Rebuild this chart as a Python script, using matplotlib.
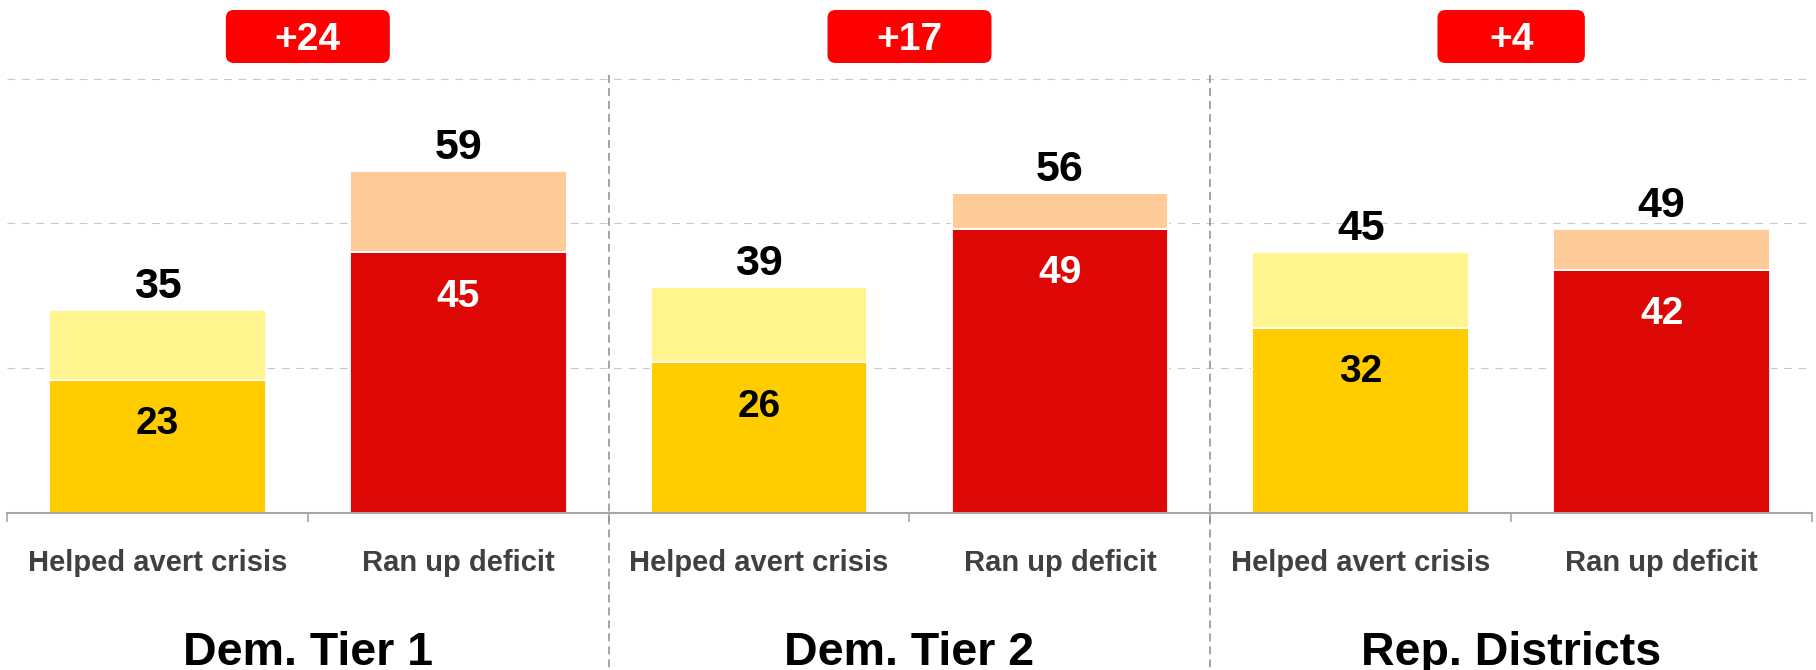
import matplotlib
matplotlib.use("Agg")
import matplotlib.pyplot as plt
from matplotlib.patches import FancyBboxPatch
import matplotlib.transforms as mtransforms

# ---------------- data ----------------
groups = ["Dem. Tier 1", "Dem. Tier 2", "Rep. Districts"]
bar_labels = ["Helped avert crisis", "Ran up deficit"]
helped_strong = [23, 26, 32]
helped_total = [35, 39, 45]
deficit_strong = [45, 49, 42]
deficit_total = [59, 55.2, 49]          # bar heights as drawn
deficit_total_labels = ["59", "56", "49"]  # labels as printed
margins = ["+24", "+17", "+4"]
y_ticks = [25, 50, 75]

# ---------------- style ----------------
plt.rcParams['font.family'] = ['Liberation Sans', 'DejaVu Sans']
plt.rcParams['font.weight'] = 'bold'

C_GOLD = '#FFCC00'
C_LYEL = '#FFF48D'
C_RED = '#DD0806'
C_PEACH = '#FFCC99'
C_BOX = '#FF0000'

FW, FH, DPI = 1816, 670, 100
fig = plt.figure(figsize=(FW / DPI, FH / DPI), dpi=DPI)

unit_px = 5.79         # pixels per y unit
ymax = 76
ax_left_px, ax_right_px = 7, 1812
ax_bottom_px = 513     # from top
ax_h_px = ymax * unit_px
ax = fig.add_axes([ax_left_px / FW, (FH - ax_bottom_px) / FH,
                   (ax_right_px - ax_left_px) / FW, ax_h_px / FH])

n = len(groups)
x_helped = [2 * i for i in range(n)]
x_deficit = [2 * i + 1 for i in range(n)]
bw = 0.72

helped_soft = [t - s for t, s in zip(helped_total, helped_strong)]
deficit_soft = [t - s for t, s in zip(deficit_total, deficit_strong)]

kw = dict(width=bw, edgecolor='white', linewidth=1.3, zorder=2)
ax.bar(x_helped, helped_strong, color=C_GOLD, **kw)
ax.bar(x_helped, helped_soft, bottom=helped_strong, color=C_LYEL, **kw)
ax.bar(x_deficit, deficit_strong, color=C_RED, **kw)
ax.bar(x_deficit, deficit_soft, bottom=deficit_strong, color=C_PEACH, **kw)

ax.set_xlim(-0.5, 2 * n - 0.5)
ax.set_ylim(0, ymax)

# value labels
helped_total_labels = [str(v) for v in helped_total]
for xs, strong, total, tlabels, incol in [
        (x_helped, helped_strong, helped_total, helped_total_labels, 'black'),
        (x_deficit, deficit_strong, deficit_total, deficit_total_labels, 'white')]:
    for x, s, t, tl in zip(xs, strong, total, tlabels):
        ax.text(x, s - 9.35, str(s), ha='center', va='baseline', fontsize=28,
                color=incol, fontweight='bold', zorder=3)
        ax.text(x, t + 2.1, tl, ha='center', va='baseline', fontsize=31,
                color='black', fontweight='bold', zorder=3)

# grid
ax.set_yticks(y_ticks)
ax.yaxis.grid(True, color='#C8C8C8', linewidth=0.8, linestyle=(0, (7, 6)), zorder=0)
ax.set_axisbelow(True)
ax.tick_params(axis='y', length=0, labelleft=False)

for s in ['left', 'right', 'top']:
    ax.spines[s].set_visible(False)
ax.spines['bottom'].set_color('#A6A6A6')
ax.spines['bottom'].set_linewidth(1.5)

# x ticks
xpos = []
xlab = []
for i in range(n):
    xpos += [x_helped[i], x_deficit[i]]
    xlab += bar_labels
ax.set_xticks(xpos)
ax.set_xticklabels(xlab)
ax.tick_params(axis='x', which='major', length=0, pad=26, labelsize=21,
               labelcolor='#404040')
ax.set_xticks([i - 0.5 for i in range(2 * n + 1)], minor=True)
ax.tick_params(axis='x', which='minor', length=6.5, width=1.2, color='#A6A6A6')

# separators
sep_bottom = -(FH - ax_bottom_px) / unit_px
for i in range(1, n):
    xs = 2 * i - 0.5
    ax.plot([xs, xs], [ymax - 0.3, sep_bottom], color='#8C8C8C', linewidth=1.1,
            linestyle=(0, (5.2, 3.3)), clip_on=False, zorder=1)

# group titles
trans = mtransforms.blended_transform_factory(ax.transData, ax.transAxes)
for i, g in enumerate(groups):
    ax.text(2 * i + 0.5, -(665 - ax_bottom_px) / ax_h_px, g, transform=trans,
            ha='center', va='baseline', fontsize=33.5, fontweight='bold', color='black')

# margin boxes
px_per_x = (ax_right_px - ax_left_px) / (2 * n)
aspect = px_per_x / unit_px
box_top = (ax_bottom_px - 10) / unit_px
box_bot = (ax_bottom_px - 63) / unit_px
for i, m in enumerate(margins):
    cx = 2 * i + 0.5
    w = 0.38 + 0.055 * len(m)
    p = FancyBboxPatch((cx - w / 2, box_bot), w, box_top - box_bot,
                       boxstyle="round,pad=0,rounding_size=0.027",
                       mutation_aspect=aspect, facecolor=C_BOX, edgecolor='none',
                       clip_on=False, zorder=4)
    ax.add_patch(p)
    ax.text(cx, (box_top + box_bot) / 2, m, ha='center', va='center_baseline',
            fontsize=28, color='white', fontweight='bold', zorder=5, clip_on=False)

fig.savefig('out.png', dpi=DPI)
